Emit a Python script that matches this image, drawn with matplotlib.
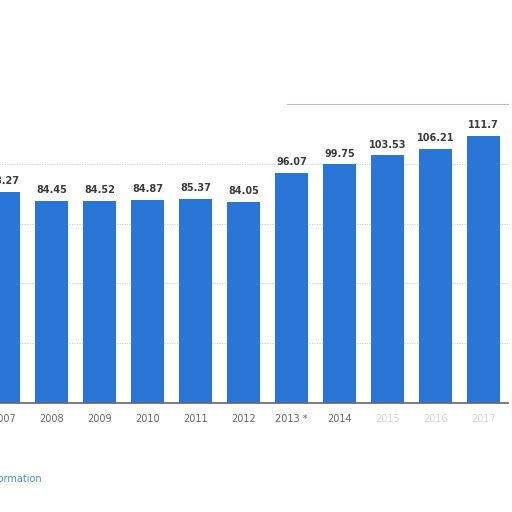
import matplotlib.pyplot as plt

years = ["2007", "2008", "2009", "2010", "2011", "2012", "2013 *", "2014", "2015", "2016", "2017"]
values = [88.27, 84.45, 84.52, 84.87, 85.37, 84.05, 96.07, 99.75, 103.53, 106.21, 111.7]
grid_vals = [25, 50, 75, 100]

fig = plt.figure(figsize=(5.12, 5.12), dpi=100)
ax = fig.add_axes([-20.5 / 512, 109 / 512, 528 / 512, 299 / 512])

x = list(range(len(years)))
bars = ax.bar(x, values, width=0.69, color="#2a76d8", zorder=2)

for gv in grid_vals:
    ax.axhline(gv, color="#c8c8c8", linewidth=0.6, linestyle=(0, (1.5, 1.5)), zorder=1)
# top line only visible on the right part in the original
ax.plot([5.9, 10.5], [125, 125], color="#bdbdbd", linewidth=0.8, zorder=1, clip_on=False)

for xi, v in zip(x, values):
    ax.text(xi, v + 2.4, f"{v:g}", ha="center", va="bottom", fontsize=7,
            fontweight="bold", color="#3c3c3c")

ax.set_xlim(-0.5, len(years) - 0.5)
ax.set_ylim(0, 125)
ax.set_xticks(x)
ax.set_xticklabels(years, fontsize=7, color="#666666")
for lbl in ax.get_xticklabels()[8:]:
    lbl.set_color("#d4d4d4")
ax.tick_params(axis="x", length=0, pad=8)
ax.set_yticks([])
for s in ["top", "right", "left"]:
    ax.spines[s].set_visible(False)
ax.spines["bottom"].set_color("#666666")
ax.spines["bottom"].set_linewidth(1.2)

fig.text(42 / 512, 1 - 479 / 512, "Additional Information", ha="right", va="center",
         fontsize=7, color="#4a8fc4")

fig.savefig("out.png", dpi=100)
